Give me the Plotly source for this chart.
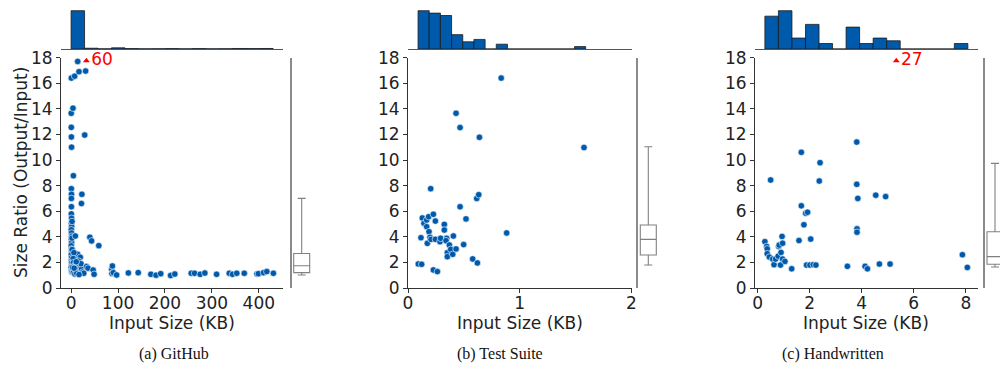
import plotly.graph_objects as go

W, H = 1000, 373

# ---------------- Panel (a) GitHub ----------------
a_x = [14, 0.5, 7.6, 16.8, 31, 0.3, 4, 0.4, 0.6, 29, 1,
       4.9, 0.5, 0.8, 0.6, 0.7, 23, 22,
       0.5, 1, 0.7, 1.2, 0.4, 0.9, 1.5, 0.6, 1.1, 0.3, 0.8, 1.3, 0.5, 1, 0.7, 1.4, 0.2, 0.9, 1.6,
       2.5, 3, 2, 2.2, 1.8, 2,
       9, 40, 43.7, 59, 10.4, 14, 19.6, 6, 8, 4.5, 5, 7.9, 14.5, 10, 14, 18.5, 20, 22.5,
       5, 8, 12, 16, 21, 25, 11, 3, 33, 36, 47, 49, 27, 6.5, 17,
       86.6, 88, 87, 90, 97, 122, 143, 170, 181, 191, 212, 221, 256, 263, 275, 285,
       310, 337, 344, 353, 369, 396, 399, 410, 417, 431]
a_y = [17.7, 16.4, 16.55, 16.9, 16.95, 13.65, 14.05, 12.55, 11.8, 11.95, 11.0,
       8.77, 7.76, 7.32, 7.0, 6.35, 7.32, 6.6,
       5.79, 5.45, 5.06, 4.8, 4.55, 4.3, 4.05, 3.8, 3.55, 3.3, 3.05, 2.85, 2.6, 2.35, 2.1, 1.85, 1.6, 1.4, 1.25,
       1.3, 1.5, 2.0, 3.0, 3.9, 5.2,
       4.06, 3.96, 3.68, 3.31, 2.68, 2.63, 2.4, 2.76, 2.2, 2.3, 1.98, 1.77, 1.8, 1.48, 1.28, 1.5, 1.33, 1.5,
       1.25, 1.1, 1.15, 2.1, 1.9, 1.25, 2.05, 1.6, 1.67, 1.55, 1.4, 1.07, 1.15, 1.55, 1.05,
       1.46, 1.72, 1.14, 1.2, 1.02, 1.18, 1.2, 1.07, 1.0, 1.12, 0.98, 1.09, 1.15, 1.15, 1.07, 1.17,
       1.07, 1.15, 1.07, 1.15, 1.15, 1.1, 1.12, 1.2, 1.28, 1.15]
a_out_x = [32.6]
a_out_val = [60]
a_hist_start = 0.0
a_hist_width = 28.7
a_hist_counts = [300, 6, 1, 9, 3, 1, 2, 3, 1, 3, 1, 2, 4, 3, 4]
a_box = dict(lowerfence=1.02, q1=1.2, median=1.74, q3=2.7, upperfence=7.0)

# ---------------- Panel (b) Test Suite ----------------
b_x = [0.092, 0.122, 0.116, 0.128, 0.143, 0.167, 0.167, 0.173, 0.185, 0.188, 0.197, 0.203,
       0.206, 0.227, 0.227, 0.245, 0.245, 0.263, 0.286, 0.292, 0.325, 0.325, 0.346, 0.34,
       0.352, 0.352, 0.37, 0.382, 0.406, 0.4, 0.43, 0.466, 0.498, 0.519, 0.579, 0.615,
       0.633, 0.621, 0.883, 0.43, 0.466, 0.639, 0.834, 1.575]
b_y = [1.88, 1.85, 3.93, 5.47, 5.05, 5.31, 4.79, 3.49, 5.57, 4.4, 3.96, 7.76,
       3.8, 5.76, 1.41, 5.23, 3.8, 1.28, 3.62, 3.88, 4.97, 4.53, 3.88, 3.7,
       2.76, 2.45, 3.36, 3.02, 4.06, 2.63, 3.05, 6.35, 3.39, 5.4, 2.27, 7.0,
       7.29, 1.96, 4.3, 13.65, 12.53, 11.77, 16.4, 10.97]
b_hist_start = 0.09
b_hist_width = 0.1
b_hist_counts = [16, 15, 14, 6, 3, 4, 0, 2, 0, 0, 0, 0, 0, 0, 1]
b_box = dict(lowerfence=1.8, q1=2.58, median=3.8, q3=4.92, upperfence=11.04)

# ---------------- Panel (c) Handwritten ----------------
c_x = [0.28, 0.35, 0.37, 0.37, 0.45, 0.5, 0.58, 0.63, 0.69, 0.79, 0.81, 0.83, 0.88, 0.9,
       0.94, 0.96, 0.96, 1.05, 1.31, 1.59, 1.68, 1.68, 1.78, 1.85, 1.92, 1.88, 2.01, 2.04,
       2.14, 2.24, 2.37, 2.4, 3.45, 3.81, 3.85, 3.82, 3.82, 3.81, 4.13, 4.22, 4.54, 4.68,
       4.92, 5.09, 7.87, 8.06]
c_y = [3.62, 3.25, 3.06, 2.68, 2.42, 8.44, 2.26, 1.82, 2.26, 2.49, 3.25, 3.35, 1.79, 2.78,
       4.03, 3.5, 2.26, 2.08, 1.5, 3.71, 6.42, 10.6, 4.94, 5.84, 5.92, 1.79, 1.79, 3.82,
       1.82, 1.79, 8.36, 9.79, 1.69, 8.1, 7.0, 4.62, 4.36, 11.4, 1.69, 1.5, 7.25, 1.87,
       7.14, 1.87, 2.6, 1.61]
c_out_x = [5.33]
c_out_val = [27]
c_hist_start = 0.28
c_hist_width = 0.52
c_hist_counts = [12, 14, 4, 9, 2, 0, 8, 2, 4, 3, 0, 0, 0, 0, 2]
c_box = dict(lowerfence=1.64, q1=1.85, median=2.45, q3=4.4, upperfence=9.74)

captions = ["(a) GitHub", "(b) Test Suite", "(c) Handwritten"]
x_title = "Input Size (KB)"
y_title = "Size Ratio (Output/Input)"

# ---------------- styling / layout constants ----------------
BLUE = "#005AAB"
FONT = "DejaVu Sans"
Y_CAP = 17.75

def dx(px):
    return px / W

def dy(py):
    return 1 - py / H

panels = [
    dict(x=a_x, y=a_y, out_x=a_out_x, out_v=a_out_val, hs=a_hist_start, hw=a_hist_width,
         hc=a_hist_counts, box=a_box, xr=[-21.5, 451.5], xt=[0, 100, 200, 300, 400],
         main=(61, 283), boxdom=(291.7, 311.7), boxr=[0, 1]),
    dict(x=b_x, y=b_y, out_x=[], out_v=[], hs=b_hist_start, hw=b_hist_width,
         hc=b_hist_counts, box=b_box, xr=[0, 2], xt=[0, 1, 2],
         main=(408, 631.5), boxdom=(638.3, 658.3), boxr=[0, 1]),
    dict(x=c_x, y=c_y, out_x=c_out_x, out_v=c_out_val, hs=c_hist_start, hw=c_hist_width,
         hc=c_hist_counts, box=c_box, xr=[-0.1, 8.45], xt=[0, 2, 4, 6, 8],
         main=(755, 977.5), boxdom=(985, 1000), boxr=[0, 0.75]),
]

fig = go.Figure()
layout = dict(
    width=W, height=H, margin=dict(l=0, r=0, t=0, b=0, pad=0, autoexpand=False),
    paper_bgcolor="white", plot_bgcolor="white", showlegend=False,
    font=dict(family=FONT, size=17, color="#222"),
)

main_y = (dy(288), dy(57.6))
hist_y = (dy(49), dy(8.8))

for i, p in enumerate(panels):
    n = 3 * i
    mx, hx, bx = n + 1, n + 2, n + 3
    def nm(k):
        return "" if k == 1 else str(k)
    # scatter
    fig.add_trace(go.Scatter(
        x=p["x"], y=p["y"], mode="markers", xaxis="x" + nm(mx), yaxis="y" + nm(mx),
        marker=dict(color=BLUE, size=6.5, line=dict(color="white", width=0.6)),
        hoverinfo="skip"))
    # outliers above plotted range
    if p["out_x"]:
        fig.add_trace(go.Scatter(
            x=p["out_x"], y=[Y_CAP] * len(p["out_x"]), mode="markers+text",
            text=[str(v) for v in p["out_v"]], textposition="middle right",
            textfont=dict(color="red", size=17, family=FONT),
            marker=dict(symbol="triangle-up", color="red", size=6),
            xaxis="x" + nm(mx), yaxis="y" + nm(mx), cliponaxis=False, hoverinfo="skip"))
    # histogram bars
    centers = [p["hs"] + (k + 0.5) * p["hw"] for k in range(len(p["hc"]))]
    fig.add_trace(go.Bar(
        x=centers, y=p["hc"], width=p["hw"], xaxis="x" + nm(hx), yaxis="y" + nm(hx),
        marker=dict(color=BLUE, line=dict(color="#1a1a1a", width=0.8)), hoverinfo="skip"))
    # box
    b = p["box"]
    fig.add_trace(go.Box(
        x=[0.5], q1=[b["q1"]], median=[b["median"]], q3=[b["q3"]],
        lowerfence=[b["lowerfence"]], upperfence=[b["upperfence"]],
        width=0.8, whiskerwidth=0.5, boxpoints=False, fillcolor="white",
        line=dict(color="#808080", width=1.1),
        xaxis="x" + nm(bx), yaxis="y" + nm(bx), hoverinfo="skip"))

    m0, m1 = p["main"]
    axcommon = dict(showgrid=False, zeroline=False, showline=True, linecolor="#333",
                    linewidth=1, ticks="outside", ticklen=4, tickwidth=1, tickcolor="#333",
                    automargin=False,
                    tickfont=dict(family=FONT, size=17, color="#222"))
    layout["xaxis" + nm(mx)] = dict(domain=[dx(m0), dx(m1)], anchor="y" + nm(mx),
                                    range=p["xr"], tickvals=p["xt"], ticklabelstandoff=-4,
                                    **axcommon)
    layout["yaxis" + nm(mx)] = dict(domain=list(main_y), anchor="x" + nm(mx),
                                    range=[0, 18], tickvals=list(range(0, 19, 2)), **axcommon)
    layout["xaxis" + nm(hx)] = dict(domain=[dx(m0), dx(m1)], anchor="y" + nm(hx),
                                    range=p["xr"], showgrid=False, zeroline=False,
                                    showline=True, linecolor="#555", linewidth=1,
                                    showticklabels=False, ticks="", automargin=False)
    layout["yaxis" + nm(hx)] = dict(domain=list(hist_y), anchor="x" + nm(hx),
                                    range=[0, max(p["hc"]) * 1.05], visible=False,
                                    automargin=False)
    b0, b1 = p["boxdom"]
    layout["xaxis" + nm(bx)] = dict(domain=[dx(b0), dx(b1)], anchor="y" + nm(bx),
                                    range=p["boxr"], visible=False, automargin=False)
    layout["yaxis" + nm(bx)] = dict(domain=list(main_y), anchor="x" + nm(bx),
                                    range=[0, 18], showgrid=False, zeroline=False,
                                    showline=True, linecolor="#8a8a8a", linewidth=1.6,
                                    showticklabels=False, ticks="", automargin=False)

fig.update_layout(**layout)

annotations = []
for i, p in enumerate(panels):
    m0, m1 = p["main"]
    annotations.append(dict(text=x_title, x=dx((m0 + m1) / 2), y=dy(323), xref="paper",
                            yref="paper", showarrow=False, xanchor="center", yanchor="middle",
                            font=dict(family=FONT, size=17, color="#222")))
cap_x = [174, 500, 833]
for cx, cap in zip(cap_x, captions):
    annotations.append(dict(text=cap, x=dx(cx), y=dy(354), xref="paper", yref="paper",
                            showarrow=False, xanchor="center", yanchor="middle",
                            font=dict(family="Liberation Serif", size=16, color="#111")))
annotations.append(dict(text=y_title, x=dx(21), y=dy(173), xref="paper", yref="paper",
                        showarrow=False, textangle=-90, xanchor="center", yanchor="middle",
                        font=dict(family=FONT, size=17, color="#222")))
fig.update_layout(annotations=annotations)

fig.write_html("out.html", config={"displayModeBar": False},
               post_script="document.body.style.margin='0';document.body.style.overflow='hidden';")
